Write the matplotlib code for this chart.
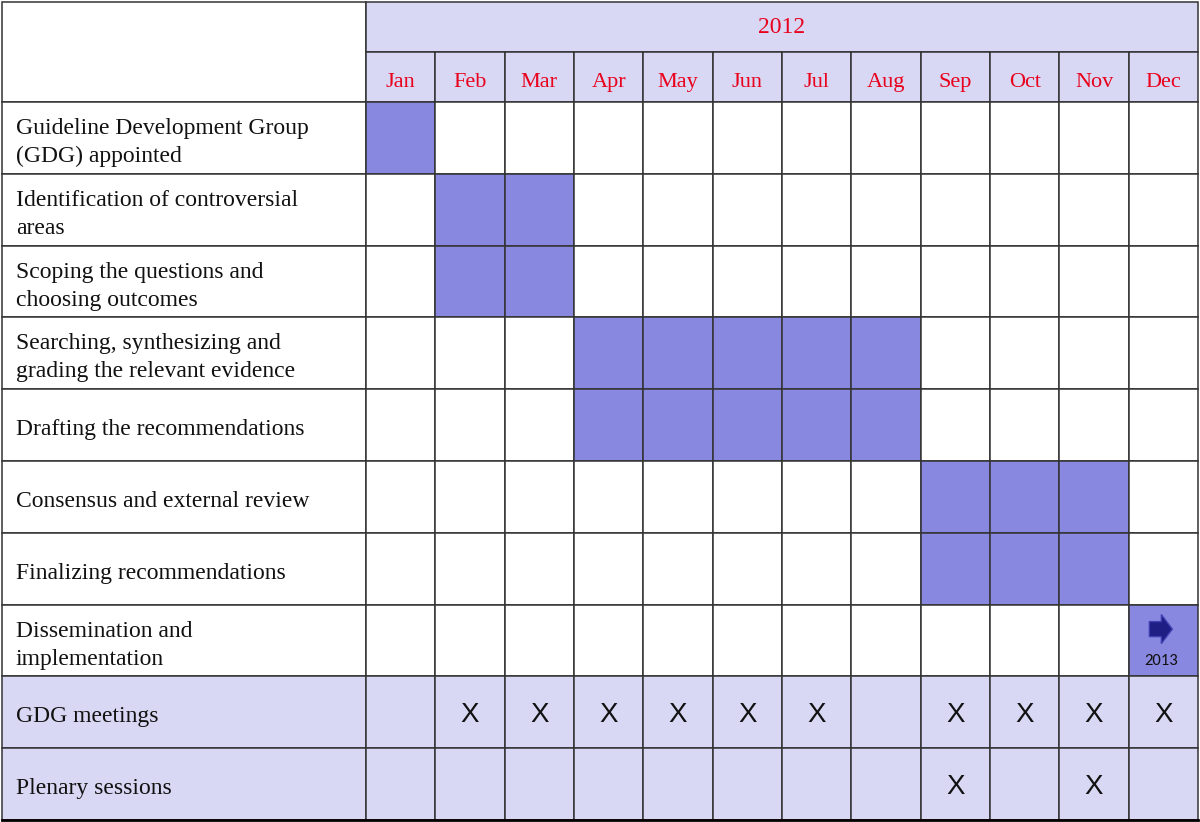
import matplotlib
matplotlib.use("Agg")
import matplotlib.pyplot as plt
from matplotlib.patches import Rectangle, Polygon

year_label = "2012"
months = ["Jan", "Feb", "Mar", "Apr", "May", "Jun", "Jul", "Aug", "Sep", "Oct", "Nov", "Dec"]
tasks = [
    "Guideline Development Group\n(GDG) appointed",
    "Identification of controversial\nareas",
    "Scoping the questions and\nchoosing outcomes",
    "Searching, synthesizing and\ngrading the relevant evidence",
    "Drafting the recommendations",
    "Consensus and external review",
    "Finalizing recommendations",
    "Dissemination and\nimplementation",
]
task_start = [0, 1, 1, 3, 3, 8, 8, 11]   # month index (inclusive)
task_end = [0, 2, 2, 7, 7, 10, 10, 11]   # month index (inclusive)
continue_note = "2013"
meeting_rows = ["GDG meetings", "Plenary sessions"]
gdg_meetings = [0, 1, 1, 1, 1, 1, 1, 0, 1, 1, 1, 1]
plenary_sessions = [0, 0, 0, 0, 0, 0, 0, 0, 1, 0, 1, 0]

# style
FILL = "#8888e0"
LIGHT = "#d8d8f4"
LINE = "#333333"
RED = "#e8001c"
SERIF = ["Liberation Serif", "DejaVu Serif"]
SANS = ["Liberation Sans", "DejaVu Sans"]

fig = plt.figure(figsize=(12, 8.22), dpi=100)
ax = fig.add_axes([0, 0, 1, 1])
ax.set_xlim(0, 1200)
ax.set_ylim(822, 0)
ax.axis("off")

x0, xlab = 2, 366
colw = (1198 - xlab) / 12.0
y_top, y_mid, y_hdr = 2, 52, 102
rowh = (820 - y_hdr) / 10.0

def cell(x, y, w, h, fc):
    ax.add_patch(Rectangle((x, y), w, h, facecolor=fc, edgecolor=LINE, lw=1.1, zorder=1))

def label(ry, txt):
    lines = txt.split("\n")
    if len(lines) == 1:
        bases = [ry + 46]
    else:
        bases = [ry + 32, ry + 60]
    for b, ln in zip(bases, lines):
        ax.text(16, b, ln, fontsize=17, family=SERIF, ha="left", va="baseline",
                color="#111111")

# header
cell(x0, y_top, xlab - x0, y_hdr - y_top, "white")
cell(xlab, y_top, 1198 - xlab, y_mid - y_top, LIGHT)
ax.text((xlab + 1198) / 2, 33, year_label, color=RED, fontsize=17,
        family=SERIF, ha="center", va="baseline")
for i, m in enumerate(months):
    cx = xlab + i * colw
    cell(cx, y_mid, colw, y_hdr - y_mid, LIGHT)
    ax.text(cx + colw / 2, 87, m, color=RED, fontsize=16,
            family=SERIF, ha="center", va="baseline")

# task rows
for r, t in enumerate(tasks):
    ry = y_hdr + r * rowh
    cell(x0, ry, xlab - x0, rowh, "white")
    label(ry, t)
    for i in range(12):
        fc = FILL if task_start[r] <= i <= task_end[r] else "white"
        cell(xlab + i * colw, ry, colw, rowh, fc)

# continuation arrow in the last task's final cell
r = len(tasks) - 1
i = task_end[r]
cx = xlab + i * colw + colw / 2
ry = y_hdr + r * rowh
ay = ry + 24.5
arrow = [(cx - 14, ay - 7.5), (cx - 2, ay - 7.5), (cx - 2, ay - 14.5), (cx + 9, ay),
         (cx - 2, ay + 14.5), (cx - 2, ay + 7.5), (cx - 14, ay + 7.5)]
ax.add_patch(Polygon(arrow, closed=True, facecolor="#1e1e85", edgecolor="#4040b0", lw=1, zorder=3))
ax.text(cx - 2, ry + 60, continue_note, fontsize=12, family=["Carlito", "Liberation Sans", "DejaVu Sans"],
        ha="center", va="baseline", color="#111111")

# meeting rows
for k, (name, vals) in enumerate(zip(meeting_rows, [gdg_meetings, plenary_sessions])):
    ry = y_hdr + (len(tasks) + k) * rowh
    cell(x0, ry, xlab - x0, rowh, LIGHT)
    label(ry, name)
    for i in range(12):
        cell(xlab + i * colw, ry, colw, rowh, LIGHT)
        if vals[i]:
            ax.text(xlab + i * colw + colw / 2, ry + 46, "X", fontsize=20,
                    family=SANS, ha="center", va="baseline", color="#111111")

ax.plot([x0, 1198], [820, 820], color="black", lw=2, zorder=4)

fig.savefig("out.png", dpi=100)
